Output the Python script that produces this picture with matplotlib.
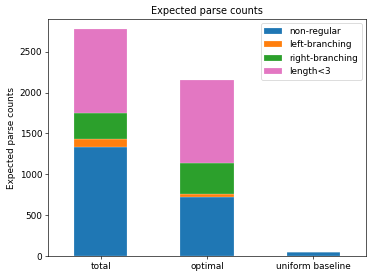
import matplotlib
matplotlib.use("Agg")
import matplotlib.pyplot as plt
import numpy as np

categories = ["total", "optimal", "uniform baseline"]
series_names = ["non-regular", "left-branching", "right-branching", "length<3"]
non_regular = [1331, 718, 53]
left_branching = [101, 37, 0]
right_branching = [315, 380, 0]
length_lt3 = [1028, 1015, 0]
colors = ["#1f77b4", "#ff7f0e", "#2ca02c", "#e377c2"]

DPI = 58.44
plt.rcParams["font.size"] = 11
fig = plt.figure(figsize=(374 / DPI, 279 / DPI), dpi=DPI)
ax = fig.add_axes([0.128, 0.082, 0.851, 0.850])
x = np.arange(len(categories))
bottom = np.zeros(len(categories))
for name, vals, c in zip(series_names, [non_regular, left_branching, right_branching, length_lt3], colors):
    v = np.array(vals, dtype=float)
    ax.bar(x, v, 0.5, bottom=bottom, color=c, label=name, edgecolor=(1, 1, 1, 0.5), linewidth=0.5)
    bottom += v
ax.set_xlim(-0.5, 2.5)
ax.set_ylim(0, 2900)
ax.set_xticks(x)
ax.set_xticklabels(categories)
ax.set_yticks([0, 500, 1000, 1500, 2000, 2500])
ax.set_ylabel("Expected parse counts")
ax.set_title("Expected parse counts", fontsize=12)
ax.legend(loc="upper right")
fig.savefig("out.png", dpi=DPI)
